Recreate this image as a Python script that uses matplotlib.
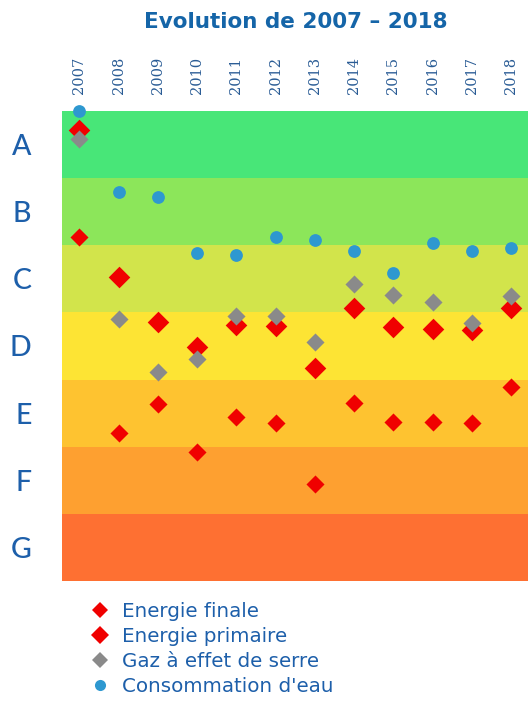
import matplotlib
matplotlib.use("Agg")
import matplotlib.pyplot as plt
from matplotlib.lines import Line2D

years = [2007, 2008, 2009, 2010, 2011, 2012, 2013, 2014, 2015, 2016, 2017, 2018]
grades = ["A", "B", "C", "D", "E", "F", "G"]
band_colors = ["#48E678", "#8CE65A", "#D2E44B", "#FDE434", "#FEC330", "#FEA030", "#FE7032"]

# values on a continuous scale: 0 = top of A, 7 = bottom of G
energie_finale = [1.88, 4.80, 4.37, 5.08, 4.56, 4.64, 5.55, 4.35, 4.63, 4.63, 4.64, 4.11]
energie_primaire = [0.29, 2.47, 3.14, 3.52, 3.19, 3.20, 3.83, 2.94, 3.22, 3.24, 3.26, 2.93]
gaz_serre = [0.41, 3.10, 3.88, 3.70, 3.06, 3.06, 3.44, 2.58, 2.74, 2.84, 3.15, 2.76]
conso_eau = [0.00, 1.20, 1.28, 2.12, 2.14, 1.88, 1.92, 2.08, 2.42, 1.96, 2.08, 2.04]

series_labels = ["Energie finale", "Energie primaire", "Gaz à effet de serre", "Consommation d'eau"]

txt_color = "#1D5FAA"
RED = "#F00000"
GRAY = "#8A8A8A"
BLUE = "#2E98D0"

plt.rcParams['font.family'] = ['DejaVu Sans']

fig = plt.figure(figsize=(5.28, 7.02), dpi=100)
ax = fig.add_axes([62/528, 1 - 581/702, 1 - 62/528, (581 - 111)/702])

for i, c in enumerate(band_colors):
    ax.axhspan(i, i + 1, color=c, lw=0, zorder=0)

ax.set_xlim(2006.554, 2018.433)
ax.set_ylim(7, 0)

ax.scatter(years, energie_finale, marker="D", s=9.2**2, color=RED, lw=0, zorder=3, clip_on=False)
ax.scatter(years, energie_primaire, marker="D", s=11.0**2, color=RED, lw=0, zorder=4, clip_on=False)
ax.scatter(years, gaz_serre, marker="D", s=9.2**2, color=GRAY, lw=0, zorder=5, clip_on=False)
ax.scatter(years, conso_eau, marker="o", s=9.2**2, color=BLUE, lw=0, zorder=6, clip_on=False)

ax.set_yticks([i + 0.5 for i in range(len(grades))])
ax.set_yticklabels(grades, fontsize=20.5, color=txt_color, family=['Lato', 'DejaVu Sans'],
                   fontweight='medium')
ax.tick_params(axis='y', length=0, pad=22)

ax.xaxis.tick_top()
ax.set_xticks(years)
ax.set_xticklabels([str(y) for y in years], rotation=90, fontsize=10.5, color="#2A5C95",
                   family=['DejaVu Serif'])
ax.tick_params(axis='x', length=0, pad=12)

for s in ax.spines.values():
    s.set_visible(False)

fig.text(296/528, 1 - 22/702, "Evolution de 2007 – 2018", ha="center", va="center",
         fontsize=15.5, color="#1565A8", fontweight="bold")

handles = [
    Line2D([], [], marker="D", ls="", color=RED, markersize=8.0, mew=0),
    Line2D([], [], marker="D", ls="", color=RED, markersize=9.5, mew=0),
    Line2D([], [], marker="D", ls="", color=GRAY, markersize=8.0, mew=0),
    Line2D([], [], marker="o", ls="", color=BLUE, markersize=8.0, mew=0),
]
leg = fig.legend(handles, series_labels, loc="upper left", bbox_to_anchor=(80/528, 1 - 592/702),
                 frameon=False, fontsize=14.3, labelspacing=0.3, handletextpad=0.62,
                 handlelength=1.0, borderpad=0)
for t in leg.get_texts():
    t.set_color(txt_color)

fig.savefig("out.png", dpi=100, facecolor="white")
